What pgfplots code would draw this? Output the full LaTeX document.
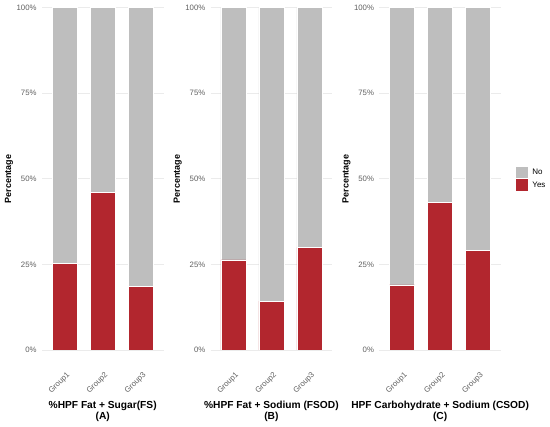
\documentclass[border=0pt]{standalone}
\usepackage{pgfplots}
\pgfplotsset{compat=1.18}
\usepackage{fontspec}
\setmainfont{Liberation Sans}
\definecolor{yesred}{RGB}{178,38,46}
\definecolor{nogray}{RGB}{190,190,190}
\definecolor{gridgray}{RGB}{235,235,235}
\definecolor{tickgray}{RGB}{95,95,95}
\pgfplotsset{
  panel/.style={
    scale only axis, width=121.8pt, height=342.3pt, anchor=south west,
    xmin=-0.6, xmax=2.6, ymin=0, ymax=100,
    ybar stacked, bar width=0.66,
    axis line style={draw=none}, major tick style={draw=none},
    ymajorgrids, grid style={color=gridgray, line width=0.7pt},
    ytick={0,25,50,75,100},
    yticklabel={\pgfmathprintnumber{\tick}\%},
    /pgf/number format/assume math mode=true,
    y tick label style={font=\fontsize{7.8}{9}\selectfont, text=tickgray, inner sep=0pt, xshift=-5pt},
    xtick={0,1,2}, xticklabels={Group1,Group2,Group3},
    x tick label style={font=\fontsize{7.8}{9}\selectfont, text=tickgray, inner sep=0pt, xshift=1.5pt, yshift=-21pt, rotate=45, anchor=north east},
    ylabel={Percentage},
    ylabel style={at={(axis description cs:-0.269,0.5)}, anchor=center, font=\bfseries\fontsize{9}{10}\selectfont},
    xlabel style={at={(axis description cs:0.5,0)}, anchor=north, yshift=-50.5pt, inner sep=0pt, align=center, font=\bfseries\fontsize{10.2}{11.6}\selectfont},
    every axis plot/.append style={draw=white, line width=0.5pt},
  }
}
\begin{document}
\begin{tikzpicture}[x=1pt,y=1pt]
\path[use as bounding box] (0,0) rectangle (550,427);
\begin{axis}[panel, at={(41.8pt,77pt)}, xlabel={\%HPF Fat + Sugar(FS)\\(A)}]
\addplot[fill=yesred] coordinates {(0,25.3) (1,46.0) (2,18.5)};
\addplot[fill=nogray] coordinates {(0,74.7) (1,54.0) (2,81.5)};
\end{axis}
\begin{axis}[panel, at={(210.5pt,77pt)}, xlabel={\%HPF Fat + Sodium (FSOD)\\(B)}]
\addplot[fill=yesred] coordinates {(0,26.3) (1,14.3) (2,30.0)};
\addplot[fill=nogray] coordinates {(0,73.7) (1,85.7) (2,70.0)};
\end{axis}
\begin{axis}[panel, at={(379.2pt,77pt)}, xlabel={HPF Carbohydrate + Sodium (CSOD)\\(C)},
  reverse legend,
  legend style={at={(axis description cs:1.1207,0.5)}, anchor=west, draw=none, fill=none, inner sep=0pt,
    row sep=1pt, column sep=4.5pt, font=\fontsize{8}{9}\selectfont,
    nodes={inner sep=0pt, anchor=west}},
  legend cell align=left,
  legend image code/.code={\fill[#1, draw=none] (0pt,-5.85pt) rectangle (12pt,5.85pt);},
  ]
\addplot[fill=yesred] coordinates {(0,19.0) (1,43.1) (2,29.2)};
\addlegendentry{Yes}
\addplot[fill=nogray] coordinates {(0,81.0) (1,56.9) (2,70.8)};
\addlegendentry{No}
\end{axis}
\end{tikzpicture}
\end{document}
